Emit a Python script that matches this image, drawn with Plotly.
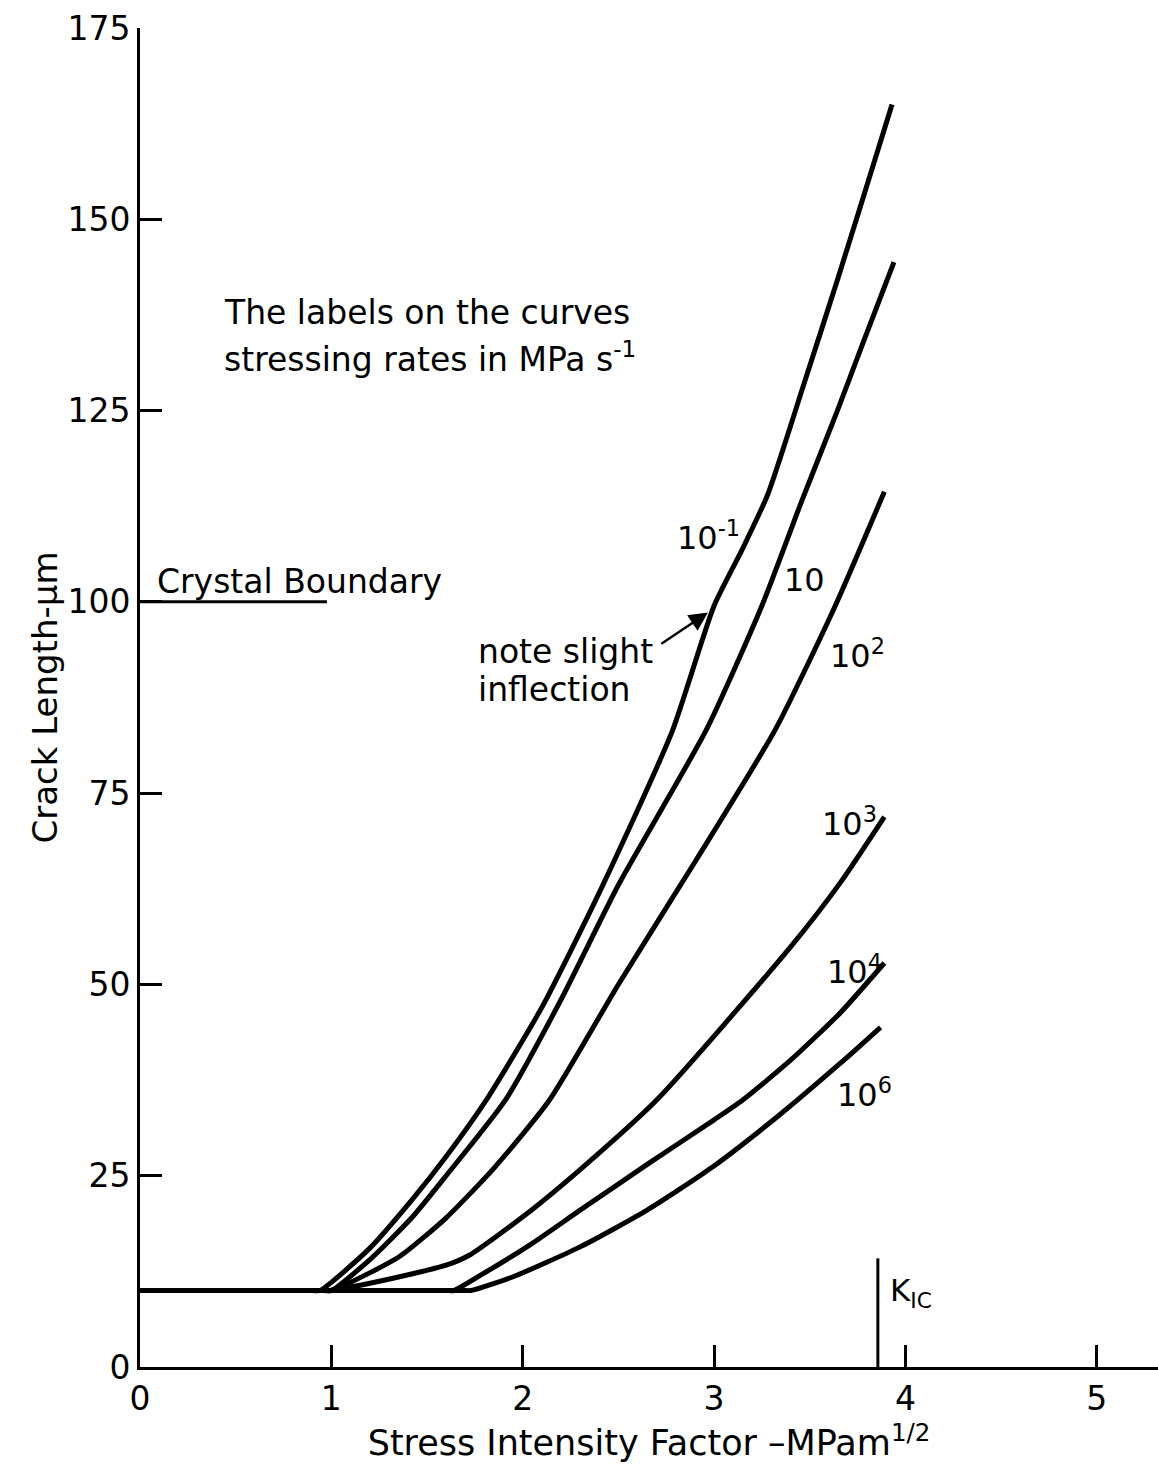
import plotly.graph_objects as go

# Stress intensity factor (MPa m^1/2) vs crack length (um) for each stressing rate
rate_labels = ["10<sup>-1</sup>", "10", "10<sup>2</sup>", "10<sup>3</sup>", "10<sup>4</sup>", "10<sup>6</sup>"]

k_m1 = [0.0, 0.5, 0.9, 0.94, 1.2, 1.42, 1.6, 1.81, 2.1, 2.4, 2.78, 3.0, 3.15, 3.28, 3.47, 3.65, 3.80, 3.93]
a_m1 = [10, 10, 10, 10, 15.5, 21.8, 27.5, 34.9, 47, 62, 83, 99.5, 107, 114, 128.5, 142.5, 154.5, 165]

k_1 = [0.0, 0.5, 0.96, 1.0, 1.2, 1.42, 1.6, 1.91, 2.2, 2.5, 2.96, 3.25, 3.46, 3.64, 3.77, 3.94]
a_1 = [10, 10, 10, 10, 14, 19.5, 25, 34.9, 48, 63, 83.3, 99.5, 113.3, 124.7, 133.3, 144.4]

k_2 = [0.0, 0.5, 0.96, 1.0, 1.2, 1.36, 1.6, 1.85, 2.14, 2.5, 2.9, 3.32, 3.63, 3.89]
a_2 = [10, 10, 10, 10, 12.3, 14.5, 19.5, 26, 34.9, 50, 66, 83.3, 99.3, 114.4]

k_3 = [0.0, 0.5, 0.95, 0.99, 1.25, 1.6, 1.72, 2.04, 2.3, 2.7, 3.4, 3.66, 3.89]
a_3 = [10, 10, 10, 10, 11.2, 13.3, 14.6, 20.4, 25.8, 34.9, 54.9, 63.3, 71.9]

k_4 = [0.0, 0.8, 1.6, 1.64, 1.78, 2.04, 2.3, 2.67, 3.0, 3.15, 3.4, 3.66, 3.89]
a_4 = [10, 10, 10, 10, 12, 16, 20.5, 26.8, 32.3, 34.9, 40.1, 46.3, 52.8]

k_6 = [0.0, 0.8, 1.69, 1.73, 1.95, 2.3, 2.65, 2.99, 3.34, 3.66, 3.87]
a_6 = [10, 10, 10, 10, 11.8, 15.7, 20.5, 26.1, 32.9, 39.7, 44.4]

# Crystal boundary level and fracture toughness marker
boundary_k = [0.0, 0.977]
boundary_a = [100, 100]
kic_k = [3.856, 3.856]
kic_a = [0, 14.2]

x_ticks = [0, 1, 2, 3, 4, 5]
y_ticks = [0, 25, 50, 75, 100, 125, 150, 175]

FONT = "DejaVu Sans"

fig = go.Figure()

curves = [(k_m1, a_m1), (k_1, a_1), (k_2, a_2), (k_3, a_3), (k_4, a_4), (k_6, a_6)]
for (kx, ay), name in zip(curves, rate_labels):
    fig.add_trace(go.Scatter(
        x=kx, y=ay, mode="lines", name=name,
        line=dict(color="black", width=5, shape="spline", smoothing=0.6),
        showlegend=False, hoverinfo="skip",
    ))

fig.add_trace(go.Scatter(x=boundary_k, y=boundary_a, mode="lines",
                         line=dict(color="black", width=3), showlegend=False))
fig.add_trace(go.Scatter(x=kic_k, y=kic_a, mode="lines",
                         line=dict(color="black", width=3), showlegend=False))

# Curve labels
label_pos = [(2.795, 108.6), (3.354, 102.9), (3.595, 93.2),
             (3.553, 71.2), (3.579, 51.9), (3.631, 35.8)]
for (lx, ly), txt in zip(label_pos, rate_labels):
    fig.add_annotation(x=lx, y=ly, text=txt, showarrow=False,
                       xanchor="left", yanchor="middle",
                       font=dict(family=FONT, size=32, color="black"))

texts = [
    (0.428, 137.8, "The labels on the curves", 33),
    (0.428, 132.0, "stressing rates in MPa s<sup>-1</sup>", 33),
    (0.078, 102.6, "Crystal Boundary", 33),
    (1.755, 93.5, "note slight", 33),
    (1.755, 88.5, "inflection", 33),
    (3.908, 9.7, "K<sub>IC</sub>", 31),
]
for tx, ty, txt, fs in texts:
    fig.add_annotation(x=tx, y=ty, text=txt, showarrow=False,
                       xanchor="left", yanchor="middle",
                       font=dict(family=FONT, size=fs, color="black"))

# Arrow pointing at the inflection on the 10^-1 curve
fig.add_annotation(x=2.968, y=98.6, ax=2.717, ay=94.4, axref="x", ayref="y",
                   text="", showarrow=True, arrowhead=2, arrowsize=1.5,
                   arrowwidth=2.5, arrowcolor="black")

fig.update_xaxes(
    range=[0, 5.32], showline=True, linecolor="black", linewidth=3,
    ticks="inside", ticklen=22, tickwidth=3, tickcolor="black",
    tickvals=x_ticks, ticktext=[str(v) for v in x_ticks],
    showgrid=False, zeroline=False,
    tickfont=dict(family=FONT, size=33, color="black"),
    title=dict(text="Stress Intensity Factor –MPam<sup>1/2</sup>",
               font=dict(family=FONT, size=35, color="black"), standoff=4),
)
fig.update_yaxes(
    range=[0, 175], showline=True, linecolor="black", linewidth=3,
    ticks="inside", ticklen=22, tickwidth=3, tickcolor="black",
    tickvals=y_ticks, ticktext=[str(v) for v in y_ticks],
    showgrid=False, zeroline=False,
    tickfont=dict(family=FONT, size=33, color="black"),
    title=dict(text="Crack Length-μm",
               font=dict(family=FONT, size=34, color="black"), standoff=0),
)

fig.update_layout(
    width=1158, height=1465,
    margin=dict(l=140, r=0, t=28, b=98, autoexpand=False),
    paper_bgcolor="white", plot_bgcolor="white",
    showlegend=False,
)

fig.write_html("out.html")
